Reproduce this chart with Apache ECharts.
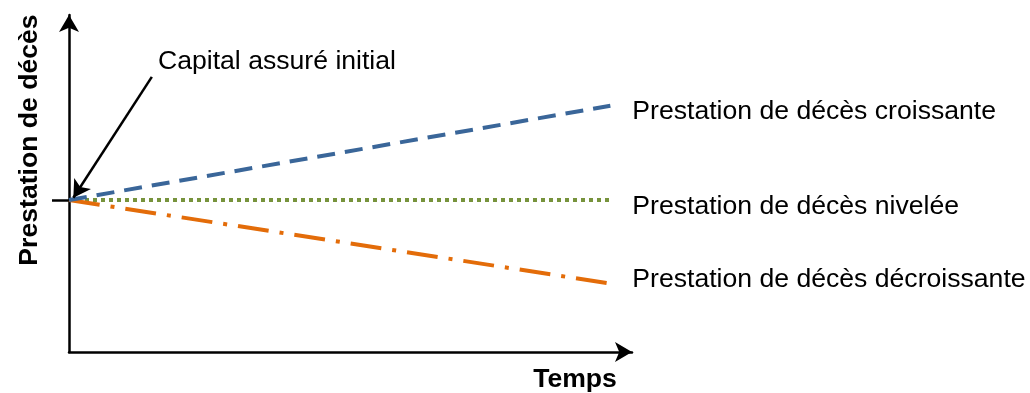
<!DOCTYPE html>
<html>
<head>
<meta charset="utf-8">
<script src="https://cdn.jsdelivr.net/npm/echarts@6/dist/echarts.min.js"></script>
<style>html,body{margin:0;padding:0;background:#fff;}#c{width:1030px;height:393px;}</style>
</head>
<body>
<div id="c"></div>
<script>
// Data
const timePoints = [0, 10];
const seriesNames = ['Prestation de décès croissante', 'Prestation de décès nivelée', 'Prestation de décès décroissante'];
const croissante = [100, 162];
const nivelee = [100, 100];
const decroissante = [100, 45];
const initialCapital = 100;
const annotationText = 'Capital assuré initial';
const annotationStart = [1.53, 181];
const yTitle = 'Prestation de décès';
const xTitle = 'Temps';

const FONT = 'Liberation Sans, Arial, sans-serif';
const FS = 26.6;
const chart = echarts.init(document.getElementById('c'), null, {renderer: 'canvas'});

function pairs(ys) { return timePoints.map((t, i) => [t, ys[i]]); }
function endLabel(dy) {
  return {show: true, formatter: '{a}', distance: 22, offset: [0, dy], color: '#000', fontSize: FS, fontFamily: FONT};
}

chart.setOption({
  animation: false,
  backgroundColor: '#fff',
  grid: {left: 69, right: 398, top: 15, bottom: 41, containLabel: false},
  xAxis: {
    type: 'value', min: 0, max: 10.4,
    splitLine: {show: false}, axisLabel: {show: false}, axisTick: {show: false},
    axisLine: {show: true, onZero: false, symbol: ['none', 'arrow'], symbolSize: [15, 17], lineStyle: {color: '#000', width: 2.5}}
  },
  yAxis: {
    type: 'value', min: 0, max: 221.7,
    splitLine: {show: false}, axisLabel: {show: false},
    axisTick: {show: true, customValues: [initialCapital], length: 17, lineStyle: {color: '#000', width: 2.5}},
    axisLine: {show: true, onZero: false, symbol: ['none', 'arrow'], symbolSize: [15, 17], lineStyle: {color: '#000', width: 2.5}}
  },
  series: [
    {
      name: seriesNames[0], type: 'line', data: pairs(croissante), showSymbol: false, symbol: 'none',
      lineStyle: {color: '#3A6699', width: 4, type: [18, 10], cap: 'butt'},
      endLabel: endLabel(6), z: 3,
      markLine: {
        silent: true, symbol: ['none', 'arrow'], symbolSize: [15, 17],
        lineStyle: {color: '#000', width: 2.5, type: 'solid'},
        label: {show: false},
        data: [[{coord: annotationStart}, {coord: [0.08, initialCapital + 1.5]}]]
      }
    },
    {
      name: seriesNames[1], type: 'line', data: pairs(nivelee), showSymbol: false, symbol: 'none',
      lineStyle: {color: '#77933C', width: 4, type: [4, 4], cap: 'butt'},
      endLabel: endLabel(7), z: 2
    },
    {
      name: seriesNames[2], type: 'line', data: pairs(decroissante), showSymbol: false, symbol: 'none',
      lineStyle: {color: '#E36C09', width: 4, type: [31, 11, 4, 11], cap: 'butt'},
      endLabel: endLabel(-4), z: 2
    }
  ],
  graphic: [
    {type: 'text', left: 158, top: 48, style: {text: annotationText, font: FS + 'px ' + FONT, fill: '#000'}},
    {type: 'text', x: 30, y: 140, rotation: Math.PI / 2, style: {text: yTitle, font: 'bold ' + FS + 'px ' + FONT, fill: '#000', align: 'center', verticalAlign: 'middle'}},
    {type: 'text', x: 575, y: 380, style: {text: xTitle, font: 'bold ' + FS + 'px ' + FONT, fill: '#000', align: 'center', verticalAlign: 'middle'}}
  ]
});
</script>
</body>
</html>
